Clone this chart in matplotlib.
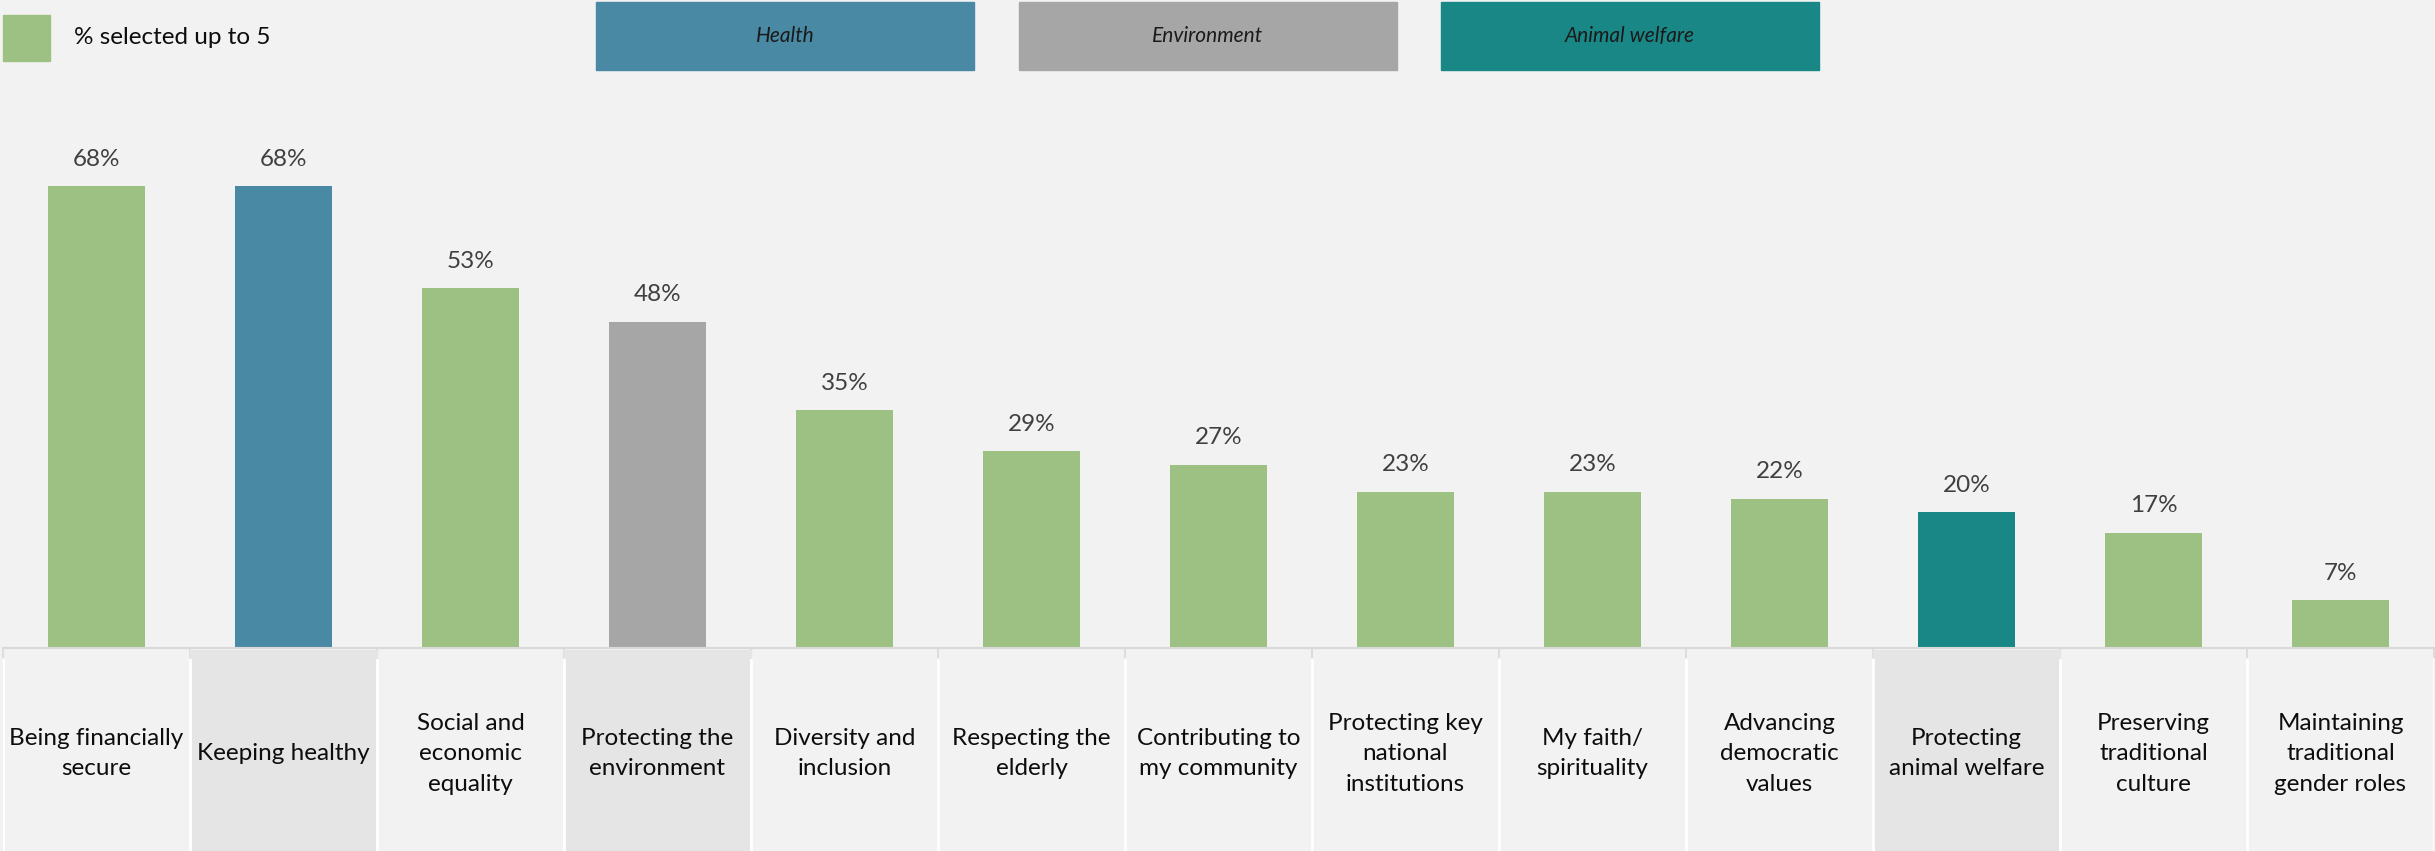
import matplotlib.pyplot as plt
from matplotlib.patches import Rectangle

categories = ['Being financially\nsecure', 'Keeping healthy', 'Social and\neconomic\nequality',
              'Protecting the\nenvironment', 'Diversity and\ninclusion', 'Respecting the\nelderly',
              'Contributing to\nmy community', 'Protecting key\nnational\ninstitutions',
              'My faith/\nspirituality', 'Advancing\ndemocratic\nvalues',
              'Protecting\nanimal welfare', 'Preserving\ntraditional\nculture',
              'Maintaining\ntraditional\ngender roles']
values = [68, 68, 53, 48, 35, 29, 27, 23, 23, 22, 20, 17, 7]
groups = ['other', 'Health', 'other', 'Environment', 'other', 'other', 'other',
          'other', 'other', 'other', 'Animal welfare', 'other', 'other']

colors = {'other': '#9dc183', 'Health': '#4a89a3', 'Environment': '#a6a6a6',
          'Animal welfare': '#1a8787'}
header_labels = ['Health', 'Environment', 'Animal welfare']
legend_label = '% selected up to 5'

bg = '#f2f2f2'
plt.rcParams['font.family'] = ['Lato', 'DejaVu Sans']

W, H = 2435, 851
fig = plt.figure(figsize=(W / 100, H / 100), dpi=100, facecolor=bg)

# bars
base = (H - 648) / H
ax = fig.add_axes([3 / W, base, 2431 / W, 548 / H])
ax.set_facecolor(bg)
x = range(len(values))
ax.bar(x, values, width=0.52, color=[colors[g] for g in groups], zorder=2)
for i, v in enumerate(values):
    ax.annotate(f'{v}%', xy=(i, v), xytext=(0, 19.5), textcoords='offset points',
                ha='center', va='center', fontsize=17.5, color='#404040')
ax.set_xlim(-0.5, len(values) - 0.5)
ax.set_ylim(0, 548 / 6.79)
ax.set_yticks([])
ax.set_xticks([i - 0.5 for i in range(len(values) + 1)])
ax.set_xticklabels([])
ax.tick_params(axis='x', length=7, width=1.2, color='#d9d9d9', direction='out')
for s in ['top', 'left', 'right']:
    ax.spines[s].set_visible(False)
ax.spines['bottom'].set_color('#d9d9d9')
ax.spines['bottom'].set_linewidth(1.5)

# category cells under the axis
cax = fig.add_axes([3 / W, 0, 2431 / W, base - 1.5 / H], sharex=ax)
cax.set_facecolor(bg)
cax.set_ylim(0, 1)
cax.axis('off')
for i, (lab, g) in enumerate(zip(categories, groups)):
    if g != 'other':
        cax.axvspan(i - 0.5, i + 0.5, color='#e5e5e5', zorder=1)
    cax.text(i, 0.483, lab, ha='center', va='center', fontsize=17.5,
             color='#0d0d0d', linespacing=1.56, zorder=3)
for i in range(len(values) + 1):
    cax.axvline(i - 0.5, ymin=0, ymax=0.95, color='white', lw=2, zorder=2)

# group header boxes
box_x = [596, 1019, 1441]
for bx, lab in zip(box_x, header_labels):
    fig.patches.append(Rectangle((bx / W, 1 - 70 / H), 378 / W, 68 / H,
                                 transform=fig.transFigure, color=colors[lab]))
    fig.text((bx + 189) / W, 1 - 36 / H, lab, ha='center', va='center',
             fontsize=15, style='italic', color='#1a1a1a')

# legend
fig.patches.append(Rectangle((3 / W, 1 - 61 / H), 47 / W, 46 / H,
                             transform=fig.transFigure, color=colors['other']))
fig.text(74 / W, 1 - 38 / H, legend_label, ha='left', va='center',
         fontsize=17.5, color='#0d0d0d')

fig.savefig('out.png', dpi=100, facecolor=bg)
